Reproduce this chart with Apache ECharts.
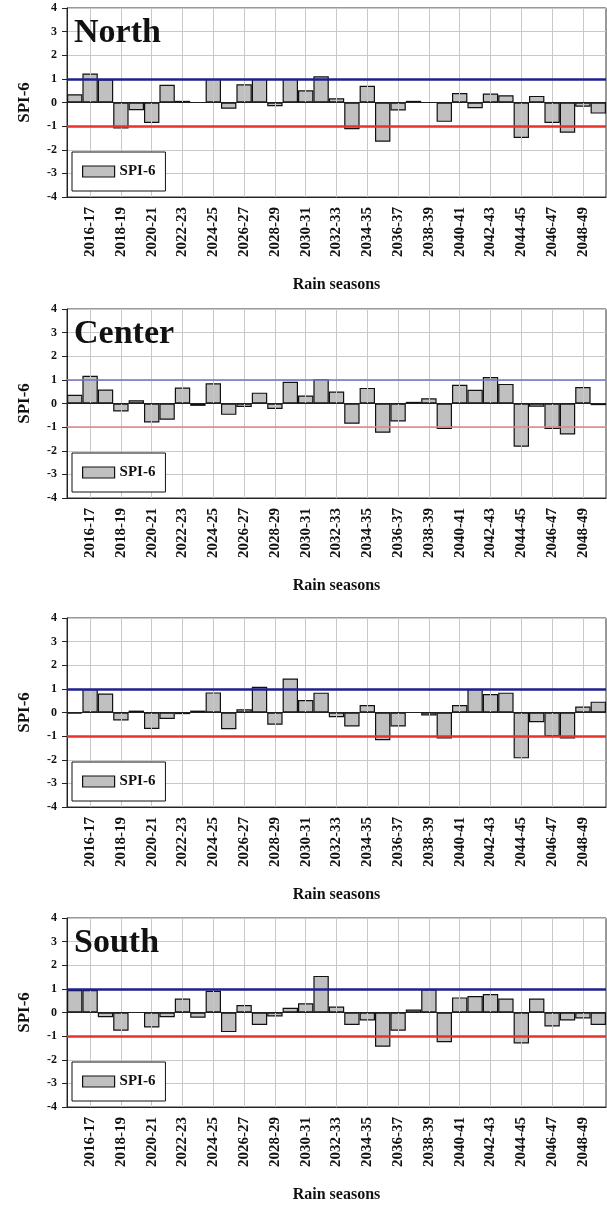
<!DOCTYPE html>
<html lang="en">
<head>
    <meta charset="UTF-8">
    <title>SPI-6 by region</title>
    <script src="https://cdn.jsdelivr.net/npm/echarts@6/dist/echarts.min.js"></script>
    <style>
        body { margin: 0; padding: 0; background: #fff; }
        #chart { width: 607px; height: 1207px; }
    </style>
</head>
<body>
    <div id="chart"></div>
    <script>
        // rain seasons on the x axis
        const seasons = [
            '2015-16', '2016-17', '2017-18', '2018-19', '2019-20', '2020-21', '2021-22',
            '2022-23', '2023-24', '2024-25', '2025-26', '2026-27', '2027-28', '2028-29',
            '2029-30', '2030-31', '2031-32', '2032-33', '2033-34', '2034-35', '2035-36',
            '2036-37', '2037-38', '2038-39', '2039-40', '2040-41', '2041-42', '2042-43',
            '2043-44', '2044-45', '2045-46', '2046-47', '2047-48', '2048-49', '2049-50'
        ];

        // SPI-6 values
        const northSpi = [
            0.35, 1.23, 0.98, -1.10, -0.33, -0.87, 0.75, 0.07, 0.00, 1.00,
            -0.26, 0.77, 1.00, -0.16, 1.00, 0.52, 1.11, 0.18, -1.13, 0.71,
            -1.66, -0.34, 0.07, 0.00, -0.82, 0.40, -0.24, 0.38, 0.31, -1.50,
            0.28, -0.87, -1.28, -0.18, -0.47
        ];
        const centerSpi = [
            0.37, 1.17, 0.59, -0.34, 0.14, -0.80, -0.69, 0.68, -0.10, 0.86,
            -0.48, -0.15, 0.46, -0.23, 0.92, 0.34, 1.03, 0.51, -0.86, 0.66,
            -1.24, -0.76, 0.07, 0.22, -1.08, 0.79, 0.58, 1.12, 0.83, -1.83,
            -0.14, -1.08, -1.31, 0.70, -0.07
        ];
        const thirdSpi = [
            -0.05, 0.99, 0.80, -0.34, 0.08, -0.70, -0.27, -0.07, 0.08, 0.85,
            -0.71, 0.14, 1.09, -0.52, 1.44, 0.53, 0.84, -0.20, -0.59, 0.32,
            -1.17, -0.59, 0.00, -0.13, -1.10, 0.32, 0.99, 0.78, 0.84, -1.94,
            -0.41, -1.00, -1.10, 0.25, 0.46
        ];
        const southSpi = [
            0.95, 0.95, -0.20, -0.77, 0.00, -0.63, -0.20, 0.59, -0.22, 0.92,
            -0.83, 0.32, -0.53, -0.17, 0.20, 0.39, 1.55, 0.25, -0.53, -0.34,
            -1.45, -0.77, 0.13, 0.98, -1.26, 0.64, 0.70, 0.78, 0.59, -1.31,
            0.59, -0.59, -0.34, -0.25, -0.53
        ];

        const panelData = [northSpi, centerSpi, thirdSpi, southSpi];
        const panelTitles = ['North', 'Center', '', 'South'];
        const panelTops = [8, 309, 618, 918];
        const panelHeight = 189;
        // the Center panel has thinner, paler threshold lines
        const thresholdStyles = [
            { blue: '#1f1f8f', red: '#e8322a', width: 2.5 },
            { blue: '#7373c8', red: '#d98a8a', width: 1.5 },
            { blue: '#1f1f8f', red: '#e8322a', width: 2.5 },
            { blue: '#1f1f8f', red: '#e8322a', width: 2.5 }
        ];

        const serif = "'Liberation Serif', 'Times New Roman', serif";
        const oddOnly = (index) => index % 2 === 1;
        // vertical grid lines sit on the labelled seasons
        const labelledSeasons = seasons.filter((s, idx) => oddOnly(idx));

        const chart = echarts.init(document.getElementById('chart'), null, { renderer: 'canvas' });

        const grids = [], xAxes = [], yAxes = [], series = [], legends = [], titles = [];

        panelData.forEach((values, i) => {
            grids.push({
                left: 67,
                right: 1,
                top: panelTops[i],
                height: panelHeight,
                show: true,
                borderColor: '#333',
                borderWidth: 1
            });
            xAxes.push({
                gridIndex: i,
                type: 'category',
                data: seasons,
                name: 'Rain seasons',
                nameLocation: 'middle',
                nameGap: 80,
                nameTextStyle: { fontFamily: serif, fontWeight: 'bold', fontSize: 16, color: '#111' },
                axisLine: { onZero: false, lineStyle: { color: '#222', width: 1 } },
                axisTick: { interval: oddOnly, alignWithLabel: true, length: 5, lineStyle: { color: '#222' } },
                axisLabel: {
                    interval: oddOnly,
                    rotate: 90,
                    margin: 10,
                    fontFamily: serif,
                    fontWeight: 'bold',
                    fontSize: 15,
                    color: '#111'
                },
                splitLine: { show: false }
            });
            yAxes.push({
                gridIndex: i,
                type: 'value',
                min: -4,
                max: 4,
                interval: 1,
                name: 'SPI-6',
                nameLocation: 'middle',
                nameGap: 34,
                nameTextStyle: { fontFamily: serif, fontWeight: 'bold', fontSize: 17, color: '#111' },
                axisLine: { show: true, lineStyle: { color: '#222', width: 1 } },
                axisTick: { show: true, length: 5, lineStyle: { color: '#222' } },
                axisLabel: { margin: 10, fontFamily: serif, fontWeight: 'bold', fontSize: 12, color: '#111' },
                splitLine: { show: true, lineStyle: { color: '#c8c8c8', width: 1 } }
            });
            // vertical grid lines, below the bars
            series.push({
                name: 'grid-' + i,
                type: 'line',
                xAxisIndex: i,
                yAxisIndex: i,
                data: [],
                z: 1,
                silent: true,
                markLine: {
                    silent: true,
                    symbol: 'none',
                    label: { show: false },
                    lineStyle: { color: '#c8c8c8', width: 1, type: 'solid' },
                    data: labelledSeasons.map(s => ({ xAxis: s }))
                }
            });
            const th = thresholdStyles[i];
            series.push({
                name: 'SPI-6',
                type: 'bar',
                xAxisIndex: i,
                yAxisIndex: i,
                data: values,
                z: 3,
                barCategoryGap: '0%',
                itemStyle: { color: '#c0c0c0', borderColor: '#111', borderWidth: 1.2 },
                markLine: {
                    silent: true,
                    symbol: 'none',
                    label: { show: false },
                    data: [
                        { yAxis: 0, lineStyle: { color: '#222', width: 1, type: 'solid' } },
                        { yAxis: 1, lineStyle: { color: th.blue, width: th.width, type: 'solid' } },
                        { yAxis: -1, lineStyle: { color: th.red, width: th.width, type: 'solid' } }
                    ]
                }
            });
            legends.push({
                data: ['SPI-6'],
                left: 72,
                top: panelTops[i] + 144,
                orient: 'horizontal',
                padding: [12, 10, 12, 10],
                itemWidth: 32,
                itemHeight: 11,
                itemGap: 7,
                icon: 'rect',
                backgroundColor: '#fff',
                borderColor: '#111',
                borderWidth: 1,
                selectedMode: false,
                z: 10,
                itemStyle: { color: '#c0c0c0', borderColor: '#111', borderWidth: 1.2 },
                textStyle: { fontFamily: serif, fontWeight: 'bold', fontSize: 15, color: '#111' }
            });
            if (panelTitles[i]) {
                titles.push({
                    text: panelTitles[i],
                    left: 74,
                    top: panelTops[i] + 8,
                    padding: 0,
                    textStyle: { fontFamily: serif, fontWeight: 'bold', fontSize: 34, color: '#111' }
                });
            }
        });

        chart.setOption({
            backgroundColor: '#fff',
            animation: false,
            title: titles,
            legend: legends,
            grid: grids,
            xAxis: xAxes,
            yAxis: yAxes,
            series: series
        });
    </script>
</body>
</html>
